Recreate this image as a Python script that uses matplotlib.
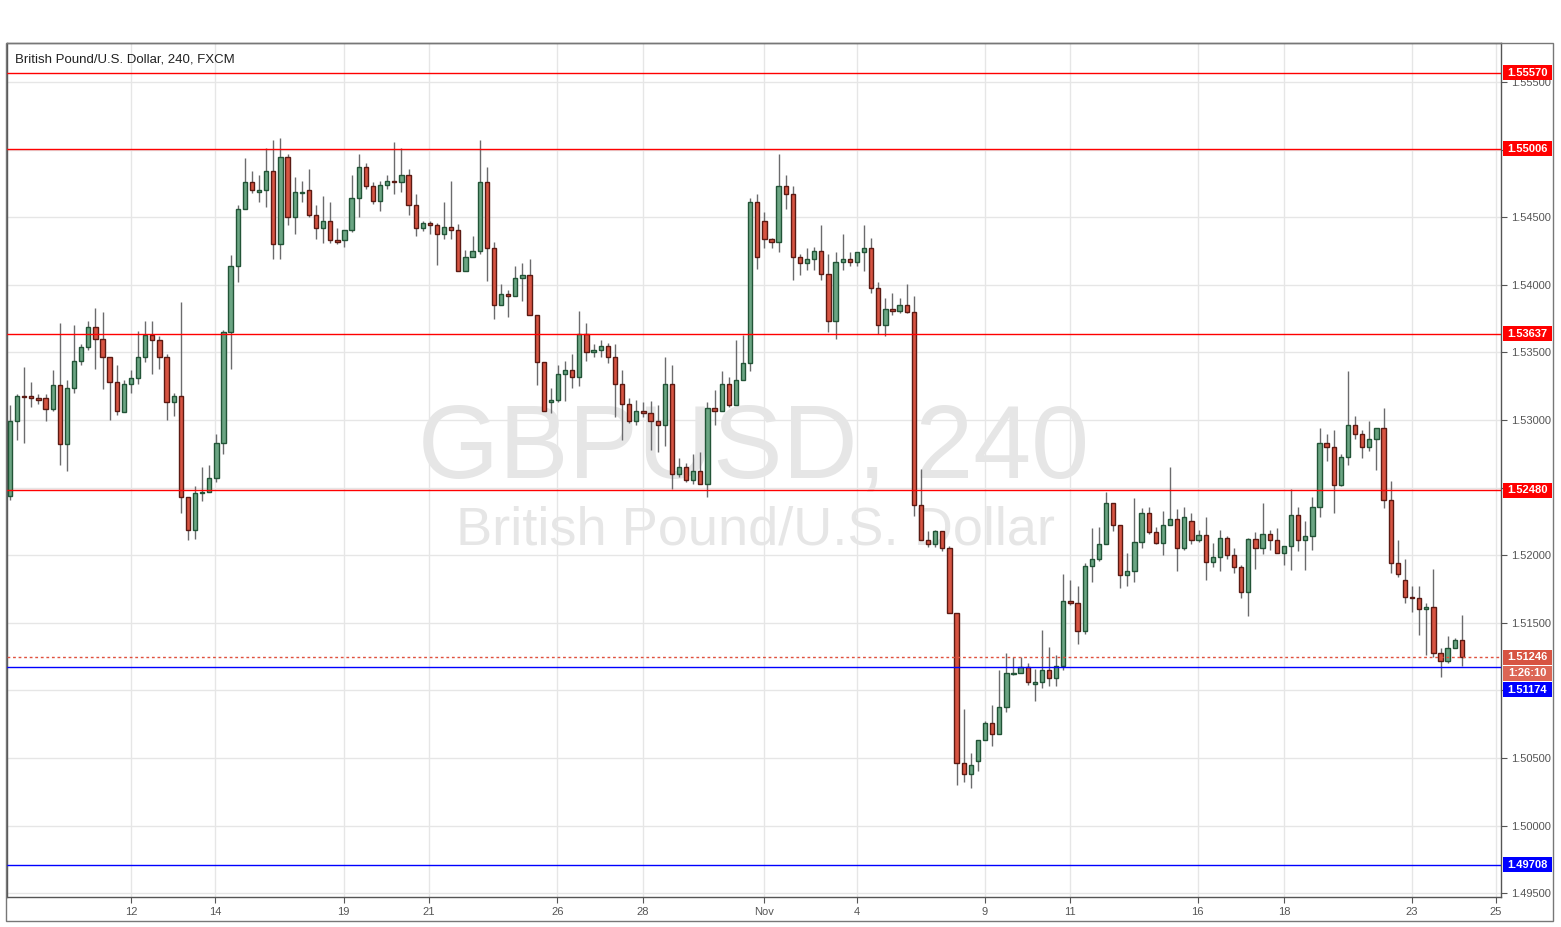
import matplotlib
matplotlib.use('Agg')
import matplotlib.pyplot as plt
from matplotlib.patches import Rectangle
from matplotlib.transforms import blended_transform_factory

# 4H candles, GBP/USD
opens = [1.5244, 1.5299, 1.5318, 1.5318, 1.5316, 1.5316, 1.5308, 1.5326, 1.5282, 1.5324,
         1.5344, 1.5354, 1.5369, 1.5360, 1.5347, 1.5328, 1.5306, 1.5327, 1.5331, 1.5347,
         1.5363, 1.5359, 1.5347, 1.5313, 1.5318, 1.5243, 1.5219, 1.5246, 1.5247, 1.5257,
         1.5283, 1.5365, 1.5414, 1.5456, 1.5476, 1.5469, 1.5470, 1.5484, 1.5430, 1.5495,
         1.5450, 1.5468, 1.5470, 1.5452, 1.5442, 1.5447, 1.5433, 1.5433, 1.5441, 1.5464,
         1.5487, 1.5473, 1.5462, 1.5474, 1.5477, 1.5476, 1.5481, 1.5459, 1.5442, 1.5446,
         1.5444, 1.5438, 1.5443, 1.5441, 1.5410, 1.5421, 1.5425, 1.5476, 1.5427, 1.5385,
         1.5393, 1.5392, 1.5405, 1.5407, 1.5378, 1.5343, 1.5313, 1.5315, 1.5334, 1.5337,
         1.5332, 1.5364, 1.5350, 1.5352, 1.5355, 1.5347, 1.5327, 1.5312, 1.5299, 1.5307,
         1.5305, 1.5299, 1.5296, 1.5327, 1.5260, 1.5265, 1.5256, 1.5262, 1.5253, 1.5309,
         1.5307, 1.5327, 1.5311, 1.5330, 1.5342, 1.5461, 1.5447, 1.5434, 1.5432, 1.5473,
         1.5467, 1.5421, 1.5416, 1.5419, 1.5425, 1.5408, 1.5373, 1.5417, 1.5419, 1.5417,
         1.5424, 1.5427, 1.5398, 1.5370, 1.5382, 1.5381, 1.5385, 1.5380, 1.5237, 1.5211,
         1.5208, 1.5218, 1.5205, 1.5157, 1.5046, 1.5038, 1.5048, 1.5063, 1.5076, 1.5068,
         1.5088, 1.5112, 1.5113, 1.5117, 1.5105, 1.5106, 1.5115, 1.5109, 1.5118, 1.5166,
         1.5165, 1.5144, 1.5192, 1.5197, 1.5208, 1.5239, 1.5222, 1.5185, 1.5188, 1.5210,
         1.5231, 1.5217, 1.5209, 1.5222, 1.5227, 1.5205, 1.5225, 1.5211, 1.5215, 1.5195,
         1.5199, 1.5213, 1.5200, 1.5191, 1.5173, 1.5212, 1.5205, 1.5216, 1.5211, 1.5202,
         1.5207, 1.5230, 1.5211, 1.5214, 1.5236, 1.5283, 1.5280, 1.5252, 1.5273, 1.5296,
         1.5290, 1.5280, 1.5286, 1.5294, 1.5241, 1.5194, 1.5182, 1.5169, 1.5168, 1.5160,
         1.5162, 1.5128, 1.5122, 1.5131, 1.5137]

highs = [1.5311, 1.5319, 1.5339, 1.5328, 1.5319, 1.5319, 1.5337, 1.5372, 1.5330, 1.5370,
         1.5356, 1.5373, 1.5383, 1.5380, 1.5347, 1.5341, 1.5330, 1.5337, 1.5366, 1.5373,
         1.5373, 1.5362, 1.5349, 1.5320, 1.5387, 1.5243, 1.5251, 1.5265, 1.5267, 1.5290,
         1.5367, 1.5422, 1.5459, 1.5494, 1.5484, 1.5481, 1.5501, 1.5507, 1.5509, 1.5497,
         1.5480, 1.5477, 1.5486, 1.5459, 1.5466, 1.5461, 1.5442, 1.5441, 1.5481, 1.5497,
         1.5490, 1.5476, 1.5477, 1.5481, 1.5506, 1.5501, 1.5486, 1.5467, 1.5447, 1.5447,
         1.5446, 1.5461, 1.5477, 1.5445, 1.5426, 1.5436, 1.5507, 1.5487, 1.5432, 1.5401,
         1.5396, 1.5414, 1.5416, 1.5419, 1.5378, 1.5343, 1.5324, 1.5341, 1.5344, 1.5349,
         1.5381, 1.5372, 1.5356, 1.5359, 1.5357, 1.5356, 1.5337, 1.5316, 1.5315, 1.5313,
         1.5314, 1.5311, 1.5347, 1.5341, 1.5272, 1.5268, 1.5275, 1.5276, 1.5313, 1.5322,
         1.5336, 1.5332, 1.5359, 1.5363, 1.5464, 1.5467, 1.5454, 1.5435, 1.5497, 1.5481,
         1.5473, 1.5423, 1.5427, 1.5428, 1.5444, 1.5423, 1.5424, 1.5438, 1.5424, 1.5424,
         1.5444, 1.5435, 1.5402, 1.5390, 1.5394, 1.5390, 1.5401, 1.5392, 1.5264, 1.5218,
         1.5219, 1.5218, 1.5207, 1.5157, 1.5086, 1.5054, 1.5063, 1.5077, 1.5089, 1.5115,
         1.5128, 1.5125, 1.5125, 1.5120, 1.5116, 1.5145, 1.5132, 1.5126, 1.5186, 1.5182,
         1.5177, 1.5194, 1.5220, 1.5221, 1.5247, 1.5239, 1.5222, 1.5202, 1.5242, 1.5235,
         1.5236, 1.5221, 1.5233, 1.5265, 1.5234, 1.5236, 1.5231, 1.5219, 1.5228, 1.5209,
         1.5219, 1.5214, 1.5205, 1.5193, 1.5213, 1.5217, 1.5239, 1.5219, 1.5220, 1.5207,
         1.5249, 1.5236, 1.5225, 1.5243, 1.5294, 1.5290, 1.5293, 1.5275, 1.5336, 1.5303,
         1.5293, 1.5299, 1.5294, 1.5309, 1.5255, 1.5211, 1.5197, 1.5177, 1.5177, 1.5165,
         1.5190, 1.5131, 1.5140, 1.5139, 1.5156]

lows = [1.5241, 1.5285, 1.5283, 1.5310, 1.5312, 1.5299, 1.5307, 1.5267, 1.5262, 1.5320,
        1.5341, 1.5352, 1.5338, 1.5323, 1.5300, 1.5304, 1.5306, 1.5320, 1.5327, 1.5343,
        1.5334, 1.5338, 1.5300, 1.5303, 1.5231, 1.5211, 1.5212, 1.5240, 1.5247, 1.5254,
        1.5275, 1.5338, 1.5402, 1.5456, 1.5468, 1.5461, 1.5458, 1.5419, 1.5419, 1.5444,
        1.5438, 1.5461, 1.5450, 1.5434, 1.5431, 1.5431, 1.5430, 1.5428, 1.5439, 1.5450,
        1.5471, 1.5460, 1.5455, 1.5471, 1.5467, 1.5469, 1.5452, 1.5436, 1.5440, 1.5438,
        1.5415, 1.5434, 1.5434, 1.5410, 1.5410, 1.5421, 1.5423, 1.5403, 1.5375, 1.5385,
        1.5376, 1.5392, 1.5388, 1.5378, 1.5326, 1.5307, 1.5305, 1.5313, 1.5314, 1.5324,
        1.5325, 1.5344, 1.5347, 1.5347, 1.5342, 1.5302, 1.5285, 1.5298, 1.5296, 1.5302,
        1.5278, 1.5276, 1.5281, 1.5249, 1.5258, 1.5254, 1.5253, 1.5253, 1.5243, 1.5296,
        1.5307, 1.5310, 1.5311, 1.5330, 1.5336, 1.5412, 1.5427, 1.5427, 1.5424, 1.5456,
        1.5404, 1.5407, 1.5411, 1.5411, 1.5404, 1.5365, 1.5360, 1.5411, 1.5414, 1.5414,
        1.5410, 1.5394, 1.5364, 1.5362, 1.5378, 1.5379, 1.5379, 1.5229, 1.5211, 1.5206,
        1.5206, 1.5203, 1.5157, 1.5030, 1.5032, 1.5028, 1.5040, 1.5063, 1.5059, 1.5068,
        1.5084, 1.5111, 1.5113, 1.5104, 1.5092, 1.5102, 1.5103, 1.5103, 1.5115, 1.5163,
        1.5134, 1.5142, 1.5180, 1.5196, 1.5208, 1.5218, 1.5176, 1.5177, 1.5180, 1.5205,
        1.5216, 1.5208, 1.5200, 1.5222, 1.5188, 1.5204, 1.5208, 1.5210, 1.5182, 1.5191,
        1.5188, 1.5197, 1.5187, 1.5168, 1.5155, 1.5190, 1.5201, 1.5204, 1.5202, 1.5193,
        1.5189, 1.5203, 1.5189, 1.5204, 1.5228, 1.5270, 1.5231, 1.5251, 1.5267, 1.5286,
        1.5272, 1.5277, 1.5263, 1.5235, 1.5187, 1.5184, 1.5165, 1.5158, 1.5141, 1.5126,
        1.5125, 1.5110, 1.5120, 1.5131, 1.5118]

closes = [1.5299, 1.5318, 1.5317, 1.5316, 1.5315, 1.5308, 1.5326, 1.5282, 1.5324, 1.5344,
          1.5354, 1.5369, 1.5360, 1.5347, 1.5328, 1.5307, 1.5327, 1.5331, 1.5347, 1.5363,
          1.5359, 1.5347, 1.5313, 1.5318, 1.5243, 1.5219, 1.5246, 1.5247, 1.5257, 1.5283,
          1.5365, 1.5414, 1.5456, 1.5476, 1.5470, 1.5470, 1.5484, 1.5430, 1.5495, 1.5450,
          1.5469, 1.5469, 1.5452, 1.5442, 1.5447, 1.5433, 1.5432, 1.5441, 1.5464, 1.5487,
          1.5473, 1.5462, 1.5474, 1.5477, 1.5476, 1.5481, 1.5459, 1.5442, 1.5446, 1.5444,
          1.5438, 1.5443, 1.5441, 1.5410, 1.5421, 1.5425, 1.5476, 1.5427, 1.5385, 1.5393,
          1.5392, 1.5405, 1.5407, 1.5378, 1.5343, 1.5307, 1.5315, 1.5334, 1.5337, 1.5332,
          1.5364, 1.5350, 1.5352, 1.5355, 1.5347, 1.5327, 1.5312, 1.5299, 1.5307, 1.5305,
          1.5299, 1.5296, 1.5327, 1.5260, 1.5265, 1.5256, 1.5262, 1.5253, 1.5309, 1.5307,
          1.5327, 1.5311, 1.5330, 1.5342, 1.5461, 1.5421, 1.5434, 1.5432, 1.5473, 1.5467,
          1.5421, 1.5416, 1.5419, 1.5425, 1.5408, 1.5373, 1.5417, 1.5419, 1.5417, 1.5424,
          1.5427, 1.5398, 1.5370, 1.5382, 1.5381, 1.5385, 1.5380, 1.5237, 1.5211, 1.5208,
          1.5218, 1.5205, 1.5157, 1.5046, 1.5038, 1.5045, 1.5063, 1.5076, 1.5068, 1.5088,
          1.5113, 1.5113, 1.5117, 1.5106, 1.5106, 1.5115, 1.5109, 1.5118, 1.5166, 1.5165,
          1.5144, 1.5192, 1.5197, 1.5208, 1.5239, 1.5222, 1.5185, 1.5188, 1.5210, 1.5231,
          1.5217, 1.5209, 1.5222, 1.5227, 1.5205, 1.5228, 1.5211, 1.5215, 1.5195, 1.5199,
          1.5213, 1.5200, 1.5191, 1.5173, 1.5212, 1.5205, 1.5216, 1.5211, 1.5202, 1.5207,
          1.5230, 1.5211, 1.5214, 1.5236, 1.5283, 1.5280, 1.5252, 1.5273, 1.5296, 1.5290,
          1.5280, 1.5286, 1.5294, 1.5241, 1.5194, 1.5186, 1.5169, 1.5168, 1.5160, 1.5162,
          1.5128, 1.5122, 1.5131, 1.5137, 1.51246]

day_labels = ['12', '14', '19', '21', '26', '28', 'Nov', '4', '9', '11', '16', '18', '23', '25']
day_pos = [17, 28.8, 46.9, 58.9, 76.9, 88.9, 105.9, 119, 137, 148.9, 166.9, 179, 197, 208.8]

price_ticks = [1.495, 1.500, 1.505, 1.510, 1.515, 1.520, 1.525, 1.530, 1.535, 1.540,
               1.545, 1.550, 1.555]
hidden_ticks = [1.510, 1.525, 1.550]  # covered by the level boxes

resistance = [1.55570, 1.55006, 1.53637, 1.52480]
support = [1.51174, 1.49708]
last_price = 1.51246
countdown = '1:26:10'

W, H = 1561, 927
plt.rcParams['font.family'] = ['Liberation Sans', 'DejaVu Sans']

fig = plt.figure(figsize=(W / 100, H / 100), dpi=100)
fig.patch.set_facecolor('white')
ax = fig.add_axes([7 / W, 1 - 897 / H, (1501 - 7) / W, (897 - 43) / H])
ax.set_facecolor('white')

ymin, ymax = 1.49471, 1.55790
ppx = (ymax - ymin) / (897 - 43)  # price per pixel

# watermark
ax.text(0.5, 0.4918, 'GBPUSD, 240', transform=ax.transAxes, ha='center', va='baseline',
        fontsize=75, color='#e6e6e6', zorder=0.6)
ax.text(0.5013, 0.4122, 'British Pound/U.S. Dollar', transform=ax.transAxes, ha='center',
        va='baseline', fontsize=39, color='#e6e6e6', zorder=0.6)

# candles
for i in range(len(opens)):
    o, h, l, c = opens[i], highs[i], lows[i], closes[i]
    if c >= o:
        fc, ec = '#6ba583', '#225437'
    else:
        fc, ec = '#d75442', '#5b1a13'
    ax.vlines(i, l, h, color='#6b6b6d', lw=1, zorder=2)
    ax.bar(i, abs(c - o), bottom=min(o, c), width=0.6, color=fc, edgecolor=ec,
           linewidth=1, zorder=3)

# levels
for p in resistance:
    ax.axhline(p, color='#ff0000', lw=1, zorder=4)
for p in support:
    ax.axhline(p, color='#0000ff', lw=1, zorder=4)
ax.axhline(last_price, color='#e0513e', lw=1, ls=(0, (2, 2)), zorder=4)

ax.set_xlim(-0.42, 209.5)
ax.set_ylim(ymin, ymax)

ax.set_yticks(price_ticks)
ax.set_yticklabels(['' if t in hidden_ticks else '%.5f' % t for t in price_ticks])
ax.yaxis.tick_right()
ax.tick_params(axis='y', length=4, pad=3, labelsize=8, colors='#555555')
ax.set_xticks(day_pos)
ax.set_xticklabels(day_labels)
ax.tick_params(axis='x', length=4, pad=3, labelsize=8, colors='#555555')
ax.grid(color='#e6e6e6', lw=1, zorder=0.5)
ax.set_axisbelow(True)
for s in ax.spines.values():
    s.set_color('#555555')
    s.set_linewidth(1)

# price boxes on the right axis
trans = blended_transform_factory(fig.transFigure, ax.transData)


def price_box(price, text, color, shift_px=0):
    yc = price - shift_px * ppx
    rect = Rectangle((1503 / W, yc - 7.5 * ppx), 49 / W, 15 * ppx, transform=trans,
                     facecolor=color, edgecolor='none', clip_on=False, zorder=6)
    ax.add_patch(rect)
    ax.text(1527.5 / W, yc, text, transform=trans, ha='center', va='center', color='white',
            fontsize=8, fontweight='bold', clip_on=False, zorder=7)


for p in resistance:
    price_box(p, '%.5f' % p, '#ff0000')
price_box(last_price, '%.5f' % last_price, '#d75442')
price_box(last_price, countdown, '#dc6655', shift_px=16)
price_box(support[0], '%.5f' % support[0], '#0000ff', shift_px=23)
price_box(support[1], '%.5f' % support[1], '#0000ff')
ax.set_ylim(ymin, ymax)

fig.text(15 / W, 1 - 60 / H, 'British Pound/U.S. Dollar, 240, FXCM', ha='left', va='center',
         fontsize=9.5, color='#222222')

# outer frame
fig.add_artist(Rectangle((6 / W, 1 - 921 / H), (1553 - 6) / W, (921 - 43) / H,
                         transform=fig.transFigure, fill=False, edgecolor='#777777', lw=1))

fig.savefig('out.png', dpi=100)
plt.close()
